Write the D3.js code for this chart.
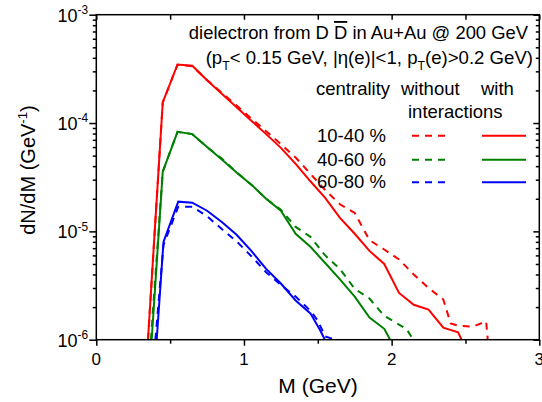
<!DOCTYPE html>
<html>
<head>
<meta charset="utf-8">
<script src="https://cdn.jsdelivr.net/npm/d3@7/dist/d3.min.js"></script>
<style>
  body { margin: 0; background: #fff; }
  text { font-family: "Liberation Sans", Arial, sans-serif; fill: #000; }
</style>
</head>
<body>
<svg id="chart" width="542" height="402"></svg>
<script>
// data: [M (GeV), dN/dM (GeV^-1)]
const red_without = [[0.35,1.0e-6],[0.45,1.55e-4],[0.55,3.45e-4],[0.65,3.35e-4],[0.75,2.5e-4],[0.85,1.9e-4],[0.95,1.45e-4],[1.05,1.1e-4],[1.15,8.4e-5],[1.25,6.4e-5],[1.35,4.8e-5],[1.45,3.4e-5],[1.55,2.4e-5],[1.65,1.78e-5],[1.75,1.48e-5],[1.85,8.3e-6],[1.95,6.8e-6],[2.05,5.5e-6],[2.15,4.0e-6],[2.25,3.0e-6],[2.35,2.35e-6],[2.40,1.41e-6],[2.45,1.35e-6],[2.55,1.32e-6],[2.64,1.48e-6],[2.665,6e-7],[2.8,6e-7],[2.86,1.0e-6],[2.9,9.6e-7],[2.95,6e-7]]
const red_with = [[0.35,1.0e-6],[0.45,1.55e-4],[0.55,3.47e-4],[0.65,3.38e-4],[0.75,2.48e-4],[0.85,1.86e-4],[0.95,1.4e-4],[1.05,1.05e-4],[1.15,7.9e-5],[1.25,5.9e-5],[1.35,4.2e-5],[1.45,2.9e-5],[1.55,2.04e-5],[1.65,1.33e-5],[1.75,9.5e-6],[1.85,6.6e-6],[1.95,5.0e-6],[2.05,2.7e-6],[2.15,2.1e-6],[2.25,1.9e-6],[2.35,1.29e-6],[2.45,1.17e-6],[2.55,6e-7]]
const green_without = [[0.37,1.0e-6],[0.45,3.56e-5],[0.55,8.3e-5],[0.65,7.9e-5],[0.75,6.0e-5],[0.85,4.7e-5],[0.95,3.5e-5],[1.05,2.7e-5],[1.15,2.0e-5],[1.25,1.58e-5],[1.35,1.1e-5],[1.45,8.9e-6],[1.55,6.0e-6],[1.65,4.5e-6],[1.75,2.95e-6],[1.85,2.4e-6],[1.95,1.66e-6],[2.05,1.38e-6],[2.10,1.26e-6],[2.146,1.0e-6],[2.2,6e-7]]
const green_with = [[0.375,1.0e-6],[0.45,3.56e-5],[0.55,8.3e-5],[0.65,7.9e-5],[0.75,6.0e-5],[0.85,4.6e-5],[0.95,3.5e-5],[1.05,2.7e-5],[1.15,2.0e-5],[1.25,1.55e-5],[1.35,9.5e-6],[1.45,7.2e-6],[1.55,5.1e-6],[1.65,3.6e-6],[1.75,2.5e-6],[1.85,1.6e-6],[1.95,1.26e-6],[1.99,1.0e-6],[2.05,6e-7]]
const blue_without = [[0.40,1.0e-6],[0.455,7.5e-6],[0.555,1.69e-5],[0.65,1.69e-5],[0.75,1.38e-5],[0.85,1.05e-5],[0.95,8.1e-6],[1.05,5.9e-6],[1.15,4.2e-6],[1.25,3.2e-6],[1.35,2.5e-6],[1.45,1.85e-6],[1.50,1.5e-6],[1.55,1.07e-6],[1.62,1.0e-6],[1.68,8e-7]]
const blue_with = [[0.409,1.0e-6],[0.455,8.0e-6],[0.555,1.88e-5],[0.65,1.84e-5],[0.75,1.55e-5],[0.85,1.22e-5],[0.95,9.3e-6],[1.05,6.6e-6],[1.15,4.5e-6],[1.25,3.3e-6],[1.35,2.3e-6],[1.45,1.75e-6],[1.515,1.23e-6],[1.548,1.0e-6],[1.6,6e-7]]

const centralities = ["10-40 %", "40-60 %", "60-80 %"]
const colors = ["#ff0000", "#008000", "#0000ff"]
const series_without = [red_without, green_without, blue_without]
const series_with = [red_with, green_with, blue_with]

const xMajor = [0, 1, 2, 3]
const xMinor = [0.5, 1.5, 2.5]
const yMajor = [1e-6, 1e-5, 1e-4, 1e-3]
const yExp = ["-6", "-5", "-4", "-3"]

const pLeft = 96.3, pRight = 539.3, pTop = 14.7, pBottom = 339.7

let svg = d3.select("#chart")

let x = d3.scaleLinear().domain([0, 3]).range([pLeft, pRight])
let y = d3.scaleLog().domain([1e-6, 1e-3]).range([pBottom, pTop])

// log minor ticks
let yMinor = []
for (let e = -6; e < -3; e++) {
  for (let k = 2; k <= 9; k++) yMinor.push(k * Math.pow(10, e))
}

// add text made of plain / sup / sub pieces
function richText(g, tx, ty, parts, size, anchor) {
  let t = g.append("text")
    .attr("x", tx).attr("y", ty)
    .attr("font-size", size)
    .attr("text-anchor", anchor || "start")
  let shift = 0
  parts.forEach(p => {
    let s = t.append("tspan").text(p.t)
    let want = 0
    if (p.sup) want = -0.42 * size
    if (p.sub) want = 0.3 * size
    if (want != shift) { s.attr("dy", want - shift); shift = want }
    if (p.sup || p.sub) s.attr("font-size", size * 0.66)
    if (p.over) s.style("text-decoration", "overline")
  })
  return t
}

// clip for curves
svg.append("defs").append("clipPath").attr("id", "plotclip")
  .append("rect")
  .attr("x", pLeft).attr("y", pTop)
  .attr("width", pRight - pLeft).attr("height", pBottom - pTop)

let line = d3.line()
  .x(d => x(d[0]))
  .y(d => y(d[1]))

let curves = svg.append("g").attr("clip-path", "url(#plotclip)")

series_without.forEach((s, i) => {
  curves.append("path")
    .attr("d", line(s))
    .attr("fill", "none")
    .attr("stroke", colors[i])
    .attr("stroke-width", 2)
    .attr("stroke-dasharray", "7,6")
})
series_with.forEach((s, i) => {
  curves.append("path")
    .attr("d", line(s))
    .attr("fill", "none")
    .attr("stroke", colors[i])
    .attr("stroke-width", 2)
})

// axes: bottom/left outward, top/right inward
function styleAxis(g) {
  g.select(".domain").remove()
  g.selectAll(".tick line").attr("stroke", "#000").attr("stroke-width", 1.5)
  g.selectAll(".tick text").remove()
}

svg.append("g").attr("transform", "translate(0," + pBottom + ")")
  .call(d3.axisBottom(x).tickValues(xMajor).tickSize(6).tickSizeOuter(0)).call(styleAxis)
svg.append("g").attr("transform", "translate(0," + pBottom + ")")
  .call(d3.axisBottom(x).tickValues(xMinor).tickSize(4).tickSizeOuter(0)).call(styleAxis)
svg.append("g").attr("transform", "translate(0," + pTop + ")")
  .call(d3.axisBottom(x).tickValues(xMajor.concat(xMinor)).tickSize(5).tickSizeOuter(0)).call(styleAxis)

svg.append("g").attr("transform", "translate(" + pLeft + ",0)")
  .call(d3.axisLeft(y).tickValues(yMajor).tickSize(7).tickSizeOuter(0)).call(styleAxis)
svg.append("g").attr("transform", "translate(" + pLeft + ",0)")
  .call(d3.axisLeft(y).tickValues(yMinor).tickSize(3.5).tickSizeOuter(0)).call(styleAxis)
svg.append("g").attr("transform", "translate(" + pRight + ",0)")
  .call(d3.axisLeft(y).tickValues(yMajor).tickSize(6).tickSizeOuter(0)).call(styleAxis)
svg.append("g").attr("transform", "translate(" + pRight + ",0)")
  .call(d3.axisLeft(y).tickValues(yMinor).tickSize(3.5).tickSizeOuter(0)).call(styleAxis)

svg.append("rect")
  .attr("x", pLeft).attr("y", pTop)
  .attr("width", pRight - pLeft).attr("height", pBottom - pTop)
  .attr("fill", "none").attr("stroke", "#000").attr("stroke-width", 1.5)

// tick labels
let labels = svg.append("g")
xMajor.forEach(v => {
  labels.append("text")
    .attr("x", x(v)).attr("y", pBottom + 25)
    .attr("font-size", 17).attr("text-anchor", "middle")
    .text(v)
})
yMajor.forEach((v, i) => {
  richText(labels, 88, y(v) + 7, [{t: "10"}, {t: yExp[i], sup: true}], 18, "end")
})

// axis titles
richText(svg, 318, 393, [{t: "M (GeV)"}], 21, "middle")
let yl = svg.append("g").attr("transform", "translate(35,170) rotate(-90)")
richText(yl, 0, 0, [{t: "dN/dM (GeV"}, {t: "-1", sup: true}, {t: ")"}], 20, "middle")

// header text
richText(svg, 528, 39, [{t: "dielectron from D "}, {t: "D", over: true}, {t: " in Au+Au @ 200 GeV"}], 18.4, "end")
richText(svg, 533, 64, [{t: "(p"}, {t: "T", sub: true}, {t: "< 0.15 GeV, |\u03b7(e)|<1, p"}, {t: "T", sub: true}, {t: "(e)>0.2 GeV)"}], 18.6, "end")

// legend
const legSize = 18.5
richText(svg, 316, 95, [{t: "centrality"}], legSize)
richText(svg, 401, 95, [{t: "without"}], legSize)
richText(svg, 481, 95, [{t: "with"}], legSize)
richText(svg, 408, 118, [{t: "interactions"}], legSize)

let rowBase = [141.7, 165.7, 188.3]
centralities.forEach((c, i) => {
  richText(svg, 317, rowBase[i], [{t: c}], legSize)
  let ly = rowBase[i] - 6
  svg.append("line")
    .attr("x1", 412).attr("x2", 450).attr("y1", ly).attr("y2", ly)
    .attr("stroke", colors[i]).attr("stroke-width", 2).attr("stroke-dasharray", "7,6")
  svg.append("line")
    .attr("x1", 482).attr("x2", 526).attr("y1", ly).attr("y2", ly)
    .attr("stroke", colors[i]).attr("stroke-width", 2)
})
</script>
</body>
</html>
